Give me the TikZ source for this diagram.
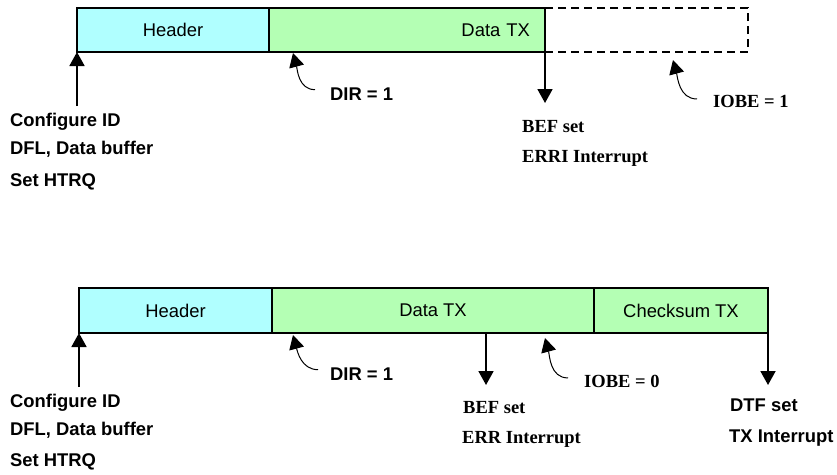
\documentclass[tikz,border=0pt]{standalone}
\usepackage{fontspec}
\setmainfont{Liberation Sans}
\newfontfamily\serifbf{Liberation Serif}
\usetikzlibrary{arrows.meta}
\definecolor{cHdr}{HTML}{B0FFFF}
\definecolor{cDat}{HTML}{B4FFB4}

\begin{document}
\begin{tikzpicture}[
    x=1pt, y=-1pt, font=\fontsize{18.4}{21}\selectfont,
    field/.style={draw, line width=1.8pt, minimum height=44pt, inner sep=0pt,
                  outer sep=0pt, anchor=north west},
    hdr/.style={field, fill=cHdr},
    dat/.style={field, fill=cDat},
    gap/.style={field, dash pattern=on 8pt off 5pt},
    evt/.style={-{Triangle[width=15pt, length=14pt]}, line width=1.8pt},
    flag/.style={-{Triangle[width=15pt, length=14pt]}, line width=1pt},
    lbl/.style={font=\fontsize{18.4}{21}\selectfont\bfseries, inner sep=0pt,
                anchor=base west},
    tms/.style={font=\fontsize{18.5}{21}\serifbf\bfseries, inner sep=0pt,
                anchor=base west},
]
\useasboundingbox (0,0) rectangle (837,474);

% ===================== Trama con error (arriba) =====================
\node[gap, minimum width=203pt] (gapA) at (545,8) {};
\node[hdr, minimum width=192pt] (hdrA) at (77,8) {Header};
\node[dat, minimum width=276pt, text width=246pt, inner xsep=15pt,
      align=right] (dataA) at (hdrA.north east) {Data TX};

\coordinate (cfgAtail) at ([yshift=-54pt]hdrA.south west);
\coordinate (befAend)  at ([yshift=-51pt]dataA.south east);
\coordinate (dirAtip)  at ([xshift=24pt, yshift=-1pt]dataA.south west);
\coordinate (iobeAtip) at ([xshift=128pt, yshift=-8pt]gapA.south west);

\node[lbl] (cfgA1) at (10,126) {Configure ID};
\node[lbl] (cfgA2) at (10,154) {DFL, Data buffer};
\node[lbl] (cfgA3) at (10,186) {Set HTRQ};
\node[lbl] (dirA)  at (330,100) {DIR = 1};
\node[tms] (befA1) at (522,132) {BEF set};
\node[tms] (befA2) at (522,162) {ERRI Interrupt};
\node[tms] (iobeA) at (713,107) {IOBE = 1};

\draw[evt] (cfgAtail) -- (hdrA.south west);
\draw[evt] (dataA.south east) -- (befAend);
\draw[flag] ([xshift=-15pt, yshift=4pt]dirA.west) to[out=180, in=-75] (dirAtip);
\draw[flag] ([xshift=-16pt, yshift=2pt]iobeA.west) to[out=180, in=-75] (iobeAtip);

% ===================== Trama completa (abajo) =====================
\node[hdr, minimum width=193pt, minimum height=45pt] (hdrB) at (79,288) {Header};
\node[dat, minimum width=322pt, minimum height=45pt] (dataB) at (hdrB.north east) {Data TX};
\node[dat, minimum width=174pt, minimum height=45pt] (chkB) at (dataB.north east) {Checksum TX};

\coordinate (cfgBtail) at ([yshift=-54pt]hdrB.south west);
\coordinate (befBtop)  at ([xshift=214pt]dataB.south west);
\coordinate (befBend)  at ([yshift=-52pt]befBtop);
\coordinate (dtfBend)  at ([yshift=-52pt]chkB.south east);
\coordinate (dirBtip)  at ([xshift=21pt, yshift=-2pt]dataB.south west);
\coordinate (iobeBtip) at ([xshift=273pt, yshift=-5pt]dataB.south west);

\node[lbl] (cfgB1) at (10,407) {Configure ID};
\node[lbl] (cfgB2) at (10,435) {DFL, Data buffer};
\node[lbl] (cfgB3) at (10,466) {Set HTRQ};
\node[lbl] (dirB)  at (330,380) {DIR = 1};
\node[tms] (befB1) at (463,413) {BEF set};
\node[tms] (befB2) at (462,443) {ERR Interrupt};
\node[tms] (iobeB) at (584,387) {IOBE = 0};
\node[lbl] (dtfB1) at (730,411) {DTF set};
\node[lbl] (dtfB2) at (729,442) {TX Interrupt};

\draw[evt] (cfgBtail) -- (hdrB.south west);
\draw[evt] (befBtop) -- (befBend);
\draw[evt] (chkB.south east) -- (dtfBend);
\draw[flag] ([xshift=-12pt, yshift=4pt]dirB.west) to[out=180, in=-75] (dirBtip);
\draw[flag] ([xshift=-16pt, yshift=3pt]iobeB.west) to[out=180, in=-75] (iobeBtip);

\end{tikzpicture}
\end{document}
